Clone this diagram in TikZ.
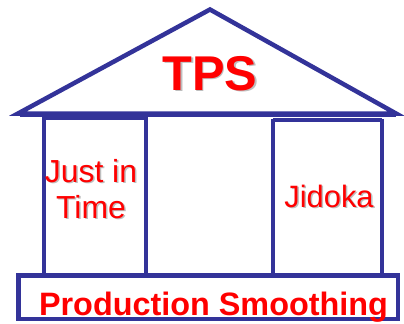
\documentclass[tikz,border=0pt]{standalone}
\usepackage{fontspec}
\setmainfont{Liberation Sans}
\usetikzlibrary{positioning}
\definecolor{houseblue}{RGB}{51,51,153}
\definecolor{tpsred}{RGB}{255,0,0}
\definecolor{shadowgray}{RGB}{190,190,190}

\begin{document}
\begin{tikzpicture}[x=1bp, y=-1bp,
    wall/.style={draw=houseblue, line width=4.5bp},
    word/.style={text=tpsred, inner sep=0pt, anchor=base},
    shade/.style={text=shadowgray, inner sep=0pt, anchor=base}]
    \useasboundingbox (0,0) rectangle (404,324);

    % Roof
    \draw[wall, line join=miter] (18,113.5) -- (210,9.5) -- (396,113.5) -- cycle;
    \draw[wall] (20,114.5) -- (396,114.5);

    % Pillars
    \draw[wall] (44,116) -- (44,275.5);
    \draw[wall] (146,116) -- (146,275.5);
    \draw[wall] (273,119) -- (273,275.5);
    \draw[wall] (382,119) -- (382,275.5);
    \draw[wall] (44,117.5) -- (146,117.5);
    \draw[wall] (273,120) -- (382,120);

    % Base
    \draw[wall] (18.5,275.5) rectangle (398,319);

    % Labels, shadow first
    \node[shade, font=\bfseries\fontsize{49}{49}\selectfont] at (211.5,91.5) {TPS};
    \node[word, font=\bfseries\fontsize{49}{49}\selectfont] (tps) at (210,90) {TPS};

    \node[shade, font=\fontsize{32}{35}\selectfont] at (92.5,183.5) {Just in};
    \node[word, font=\fontsize{32}{35}\selectfont] (justin) at (91,182) {Just in};
    \node[shade, font=\fontsize{32}{35}\selectfont] at (92.5,219.5) {Time};
    \node[word, font=\fontsize{32}{35}\selectfont] (time) at (91,218) {Time};

    \node[shade, font=\fontsize{31}{35}\selectfont] at (330.5,208.5) {Jidoka};
    \node[word, font=\fontsize{31}{35}\selectfont] (jidoka) at (329,207) {Jidoka};

    \node[word, font=\bfseries\fontsize{32.5}{35}\selectfont] (smoothing) at (213.5,315) {Production Smoothing};
\end{tikzpicture}
\end{document}
